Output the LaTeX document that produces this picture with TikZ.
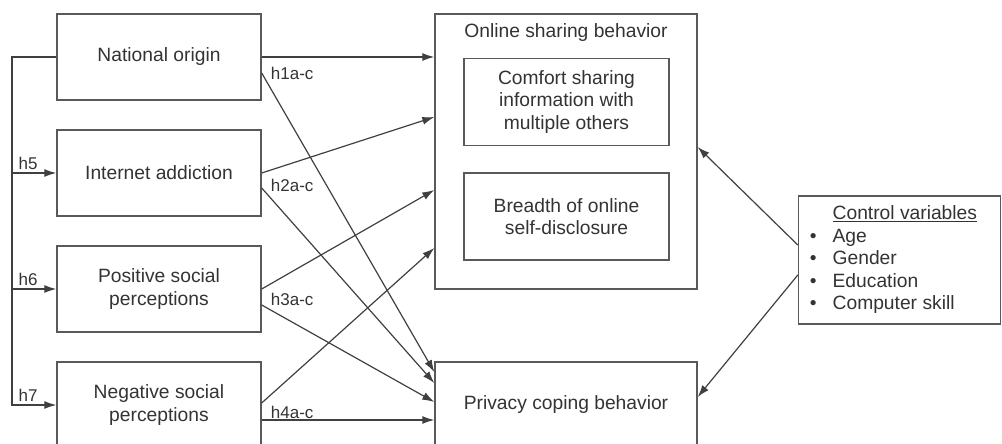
\documentclass[tikz,border=0pt]{standalone}
\usepackage{fontspec}
\setmainfont{Liberation Sans}
\usepackage{tikz}
\usetikzlibrary{arrows.meta}

\begin{document}
\begin{tikzpicture}[x=1pt, y=-1pt, inner sep=0pt, text=black!80,
                    font=\fontsize{19.25}{22.5}\selectfont]
            \useasboundingbox (0,0) rectangle (1002,444);
            \clip (0,0) rectangle (1002,444);

            \tikzstyle{myBox}=[draw=black!65, line width=1.4pt, align=center];
            \tikzstyle{leftBox}=[myBox, minimum width=204pt, minimum height=86pt];
            \tikzstyle{subBox}=[myBox, minimum width=205pt, minimum height=87pt];
            \tikzstyle{myArr}=[draw=black!75, line width=1.2pt, -{Latex[length=12pt, width=8pt]}];
            \tikzstyle{hyp}=[font=\fontsize{17}{20}\selectfont, inner sep=1pt];

            % predictors
            \node[leftBox] (nat) at (159,57) {National origin};
            \node[leftBox] (inet) at (159,173) {Internet addiction};
            \node[leftBox] (pos) at (159,289) {Positive social\\perceptions};
            \node[leftBox] (neg) at (159,405) {Negative social\\perceptions};

            % outcomes
            \node[myBox, minimum width=262pt, minimum height=275pt] (osb) at (566,151.5) {};
            \node[anchor=base] (osbt) at (566,38) {Online sharing behavior};
            \node[subBox] (comf) at (566.5,102) {Comfort sharing\\information with\\multiple others};
            \node[subBox] (brea) at (566.5,216.5) {Breadth of online\\self-disclosure};
            \node[myBox, minimum width=262pt, minimum height=86pt] (priv) at (566,405) {Privacy coping behavior};

            % controls
            \node[myBox, minimum width=202pt, minimum height=128pt] (ctrl) at (899.5,260) {%
              \begin{tabular}{@{}l@{\hspace{16pt}}l@{\hspace{12pt}}}
                & \underline{Control variables}\\
                \textbullet & Age\\
                \textbullet & Gender\\
                \textbullet & Education\\
                \textbullet & Computer skill
              \end{tabular}};

            % left spine, h5--h7
            \coordinate (spine) at (12,405);
            \draw[myArr] (nat.west) -| (spine)
              -- node[hyp, pos=0, anchor=south west, xshift=5pt, yshift=2pt] (h7) {h7} (neg.west);
            \draw[myArr] (inet.west -| spine)
              -- node[hyp, pos=0, anchor=south west, xshift=5pt, yshift=2pt] (h5) {h5} (inet.west);
            \draw[myArr] (pos.west -| spine)
              -- node[hyp, pos=0, anchor=south west, xshift=5pt, yshift=2pt] (h6) {h6} (pos.west);

            % h1a-c .. h4a-c
            \draw[myArr] (nat.east) -- (nat.east -| osb.west);
            \draw[myArr] ([yshift=-16pt]nat.east) -- ([yshift=33pt]priv.west);
            \draw[myArr] (inet.east) -- ([yshift=34.5pt]osb.west);
            \draw[myArr] ([yshift=-15pt]inet.east) -- ([yshift=22pt]priv.west);
            \draw[myArr] (pos.east) -- ([yshift=-38.5pt]osb.west);
            \draw[myArr] ([yshift=-16pt]pos.east) -- ([yshift=3pt]priv.west);
            \draw[myArr] ([yshift=2pt]neg.east) -- ([yshift=-96.5pt]osb.west);
            \draw[myArr] ([yshift=-15pt]neg.east) -- ([yshift=-15pt]priv.west);

            \node[hyp, anchor=west] (h1) at ([xshift=8pt, yshift=-16pt]nat.east) {h1a-c};
            \node[hyp, anchor=west] (h2) at ([xshift=8pt, yshift=-12pt]inet.east) {h2a-c};
            \node[hyp, anchor=west] (h3) at ([xshift=8pt, yshift=-10pt]pos.east) {h3a-c};
            \node[hyp, anchor=west] (h4) at ([xshift=8pt, yshift=-7pt]neg.east) {h4a-c};

            % control paths
            \draw[myArr] ([yshift=15pt]ctrl.west) -- ([yshift=4.5pt]osb.east);
            \draw[myArr] ([yshift=-15pt]ctrl.west) -- ([yshift=8pt]priv.east);
         \end{tikzpicture}
\end{document}
